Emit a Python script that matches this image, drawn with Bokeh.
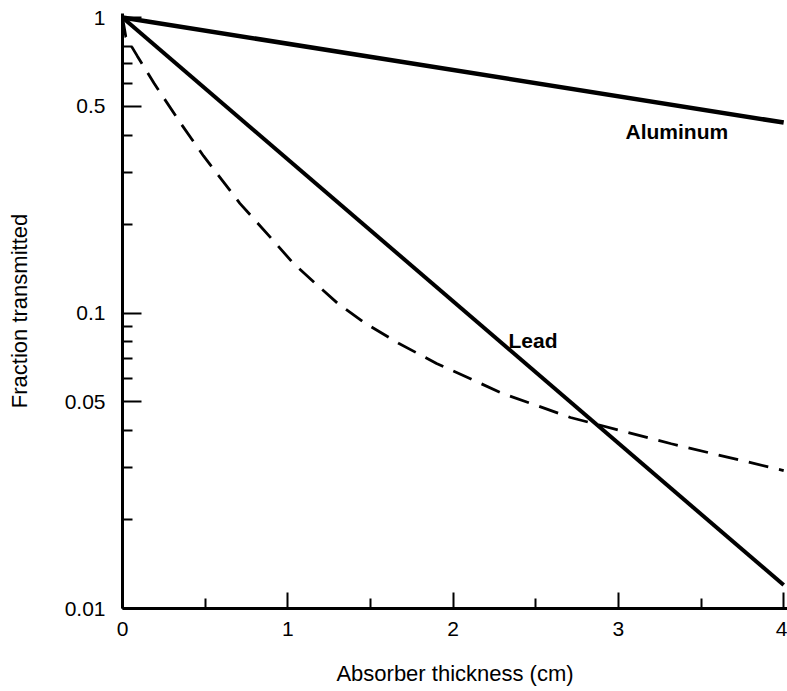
from bokeh.plotting import figure
from bokeh.models import FixedTicker, CustomJSTickFormatter, Label, Range1d
from bokeh.embed import file_html
from bokeh.resources import INLINE

# Data
al_x = [0.0, 4.0]
al_y = [1.0, 0.441]

lead_x = [0.0, 4.0]
lead_y = [1.0, 0.012]

dash_x = [0.0, 0.02, 0.09, 0.19, 0.35, 0.49, 0.71, 0.9, 1.03, 1.18, 1.3, 1.46, 1.67, 1.9, 2.3, 2.71, 3.32, 4.0]
dash_y = [1.0, 0.86, 0.74, 0.60, 0.44, 0.34, 0.235, 0.179, 0.148, 0.124, 0.108, 0.093, 0.079, 0.0675, 0.0534, 0.0443, 0.0361, 0.0293]

x_major = [0, 1, 2, 3, 4]
x_minor = [0.5, 1.5, 2.5, 3.5]
y_major = [0.01, 0.05, 0.1, 0.5, 1]
y_minor = [0.02, 0.03, 0.04, 0.06, 0.07, 0.08, 0.09, 0.2, 0.3, 0.4, 0.6, 0.7, 0.8]

FONT = "Liberation Sans"

p = figure(width=787, height=691, y_axis_type="log",
           x_range=Range1d(0, 4.023), y_range=Range1d(0.01, 1.0317),
           output_backend="svg", toolbar_location=None,
           min_border_left=122, min_border_right=0, min_border_top=13, min_border_bottom=83)
p.outline_line_color = None
p.xgrid.visible = False
p.ygrid.visible = False
p.background_fill_color = "white"
p.border_fill_color = "white"

p.line(al_x, al_y, line_color="black", line_width=4.5)
p.line(lead_x, lead_y, line_color="black", line_width=4)
p.line(dash_x, dash_y, line_color="black", line_width=2.8, line_dash="20 11")

for ax in (p.xaxis[0], p.yaxis[0]):
    ax.axis_line_width = 3
    ax.axis_line_color = "black"
    ax.major_tick_line_width = 2
    ax.minor_tick_line_width = 2
    ax.major_tick_out = 0
    ax.minor_tick_out = 0
    ax.minor_tick_in = 10
    ax.major_label_text_font = FONT
    ax.major_label_text_font_size = "21px"
    ax.major_label_text_color = "black"
    ax.axis_label_text_font = FONT
    ax.axis_label_text_font_size = "22px"
    ax.axis_label_text_font_style = "normal"
    ax.axis_label_text_color = "black"

p.xaxis.ticker = FixedTicker(ticks=x_major, minor_ticks=x_minor)
p.xaxis.major_tick_in = 16
p.xaxis.major_label_standoff = 13
p.xaxis.axis_label = "Absorber thickness (cm)"
p.xaxis.axis_label_standoff = 22

p.yaxis.ticker = FixedTicker(ticks=y_major, minor_ticks=y_minor)
p.yaxis.formatter = CustomJSTickFormatter(code="return tick.toString();")
p.yaxis.major_tick_in = 19
p.yaxis.major_label_standoff = 17
p.yaxis.axis_label = "Fraction transmitted"
p.yaxis.axis_label_standoff = 30

p.add_layout(Label(x=2.335, y=0.0807, text="Lead", text_font=FONT, text_font_size="21px",
                   text_font_style="bold", text_baseline="alphabetic", text_color="black"))
p.add_layout(Label(x=3.043, y=0.411, text="Aluminum", text_font=FONT, text_font_size="21px",
                   text_font_style="bold", text_baseline="alphabetic", text_color="black"))

open("out.html", "w").write(file_html(p, INLINE))
